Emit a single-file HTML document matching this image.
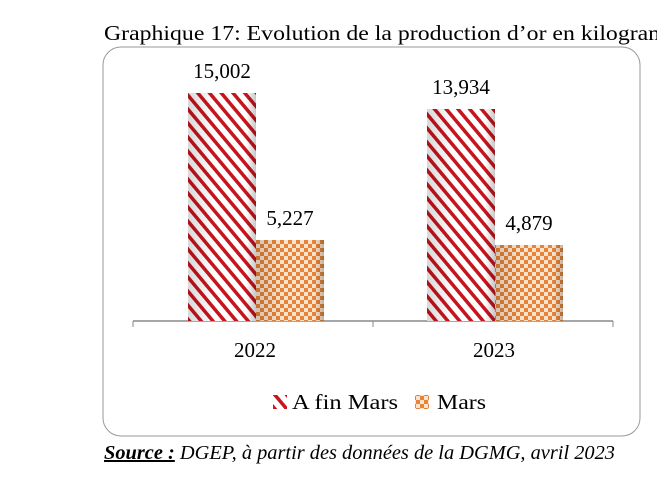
<!DOCTYPE html>
<html><head><style>
body{margin:0;background:#fff;width:657px;height:475px;overflow:hidden;font-family:"Liberation Serif",serif}
</style></head><body>
<svg width="657" height="475" xmlns="http://www.w3.org/2000/svg">
<defs>
<pattern id="st" width="9" height="9" patternUnits="userSpaceOnUse" patternTransform="rotate(-40)">
<rect width="9" height="9" fill="#fff"/><rect width="3.5" height="9" fill="#c8141c"/></pattern>
<pattern id="ck" width="8" height="8" patternUnits="userSpaceOnUse">
<rect width="8" height="8" fill="#fbe3cc"/><rect width="4" height="4" fill="#e5843a"/><rect x="4" y="4" width="4" height="4" fill="#e5843a"/></pattern>
<linearGradient id="sh" x1="0" x2="1"><stop offset="0" stop-color="#000" stop-opacity=".15"/><stop offset=".4" stop-color="#000" stop-opacity="0"/><stop offset=".85" stop-color="#000" stop-opacity="0"/><stop offset="1" stop-color="#000" stop-opacity=".22"/></linearGradient>
</defs>
<text x="104" y="40" font-size="21" fill="#000" textLength="601" lengthAdjust="spacingAndGlyphs">Graphique 17: Evolution de la production d’or en kilogrammes</text>
<rect x="103" y="47" width="537" height="389" rx="18" fill="none" stroke="#999" stroke-width="1"/>
<line x1="133" y1="321" x2="613" y2="321" stroke="#888" stroke-width="1.5"/>
<line x1="133" y1="321" x2="133" y2="327" stroke="#888"/>
<line x1="373" y1="321" x2="373" y2="327" stroke="#888"/>
<line x1="613" y1="321" x2="613" y2="327" stroke="#888"/>
<rect x="188" y="93" width="68" height="228" fill="url(#st)"/><rect x="188" y="93" width="68" height="228" fill="url(#sh)"/>
<rect x="256" y="240" width="68" height="81" fill="url(#ck)"/><rect x="256" y="240" width="68" height="81" fill="url(#sh)"/>
<rect x="427" y="109" width="68" height="212" fill="url(#st)"/><rect x="427" y="109" width="68" height="212" fill="url(#sh)"/>
<rect x="495" y="245" width="68" height="76" fill="url(#ck)"/><rect x="495" y="245" width="68" height="76" fill="url(#sh)"/>
<g font-size="21" text-anchor="middle" fill="#000">
<text x="222" y="78">15,002</text><text x="290" y="225">5,227</text>
<text x="461" y="94">13,934</text><text x="529" y="230">4,879</text>
<text x="255" y="357">2022</text><text x="494" y="357">2023</text>
</g>
<rect x="273" y="395" width="14" height="14" fill="url(#st)"/>
<text x="292" y="409" font-size="21" textLength="106" lengthAdjust="spacingAndGlyphs">A fin Mars</text>
<rect x="415" y="395" width="14" height="14" fill="url(#ck)"/>
<text x="437" y="409" font-size="21" textLength="49" lengthAdjust="spacingAndGlyphs">Mars</text>
<text x="104" y="459" font-size="20" font-style="italic" textLength="511" lengthAdjust="spacingAndGlyphs"><tspan font-weight="bold" text-decoration="underline">Source :</tspan> DGEP, à partir des données de la DGMG, avril 2023</text>
</svg>
</body></html>
